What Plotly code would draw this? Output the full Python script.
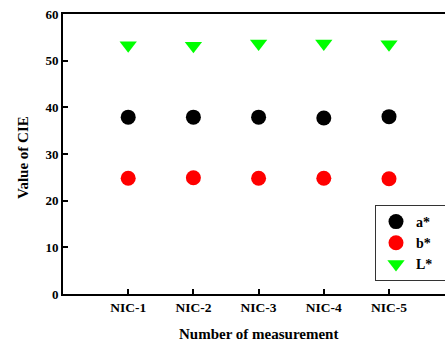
import plotly.graph_objects as go

categories = ["NIC-1", "NIC-2", "NIC-3", "NIC-4", "NIC-5"]
a_star = [37.9, 37.9, 37.9, 37.7, 38.0]
b_star = [24.8, 24.9, 24.8, 24.8, 24.7]
L_star = [53.3, 53.2, 53.7, 53.7, 53.5]
y_ticks = [0, 10, 20, 30, 40, 50, 60]
series_names = ["a*", "b*", "L*"]

xpos = list(range(1, len(categories) + 1))
FONT = "Liberation Serif"
PAD = "\u00a0" * 3

fig = go.Figure()
fig.add_trace(go.Scatter(x=xpos, y=a_star, mode="markers", name=series_names[0] + PAD,
                         marker=dict(symbol="circle", size=15, color="black")))
fig.add_trace(go.Scatter(x=xpos, y=b_star, mode="markers", name=series_names[1] + PAD,
                         marker=dict(symbol="circle", size=15, color="#ff0000")))
fig.add_trace(go.Scatter(x=xpos, y=L_star, mode="markers", name=series_names[2] + PAD,
                         marker=dict(symbol="triangle-down", size=15, color="#00ff00")))

W, H = 445, 344
ml, mt, mb = 63, 14, 50
pw = W - ml
ph = H - mt - mb

fig.update_layout(
    width=W, height=H,
    margin=dict(l=ml, r=0, t=mt, b=mb, pad=0, autoexpand=False),
    paper_bgcolor="white", plot_bgcolor="white",
    font=dict(family=FONT, size=13, color="black"),
    showlegend=True,
    legend=dict(
        x=(375 - ml) / pw, y=(294 - 205) / ph, xanchor="left", yanchor="top",
        bgcolor="white", bordercolor="#333333", borderwidth=1,
        font=dict(family=FONT, size=14, color="black", weight="bold"),
        itemwidth=30, tracegroupgap=0,
    ),
    xaxis=dict(
        range=[0, (W - ml) / 65.2], tickmode="array", tickvals=xpos, ticktext=categories,
        showline=True, linecolor="black", linewidth=2, mirror=True,
        ticks="inside", ticklen=5, tickwidth=1.5, tickcolor="black",
        showgrid=False, zeroline=False,
        tickfont=dict(family=FONT, size=13.5, weight="bold"),
    ),
    yaxis=dict(
        range=[0, 60], tickmode="array", tickvals=y_ticks,
        showline=True, linecolor="black", linewidth=2, mirror=False,
        ticks="inside", ticklen=5, tickwidth=1.5, tickcolor="black",
        showgrid=False, zeroline=False,
        tickfont=dict(family=FONT, size=13, weight="bold"),
    ),
    annotations=[
        dict(text="Number of measurement", xref="paper", yref="paper",
             x=(258 - ml) / pw, y=-(334 - 294) / ph, xanchor="center", yanchor="middle",
             showarrow=False, font=dict(family=FONT, size=15, weight="bold")),
        dict(text="Value of CIE", xref="paper", yref="paper",
             x=-(ml - 23) / pw, y=(294 - 158) / ph, xanchor="center", yanchor="middle",
             textangle=-90,
             showarrow=False, font=dict(family=FONT, size=15, weight="bold")),
    ],
)

fig.write_html("out.html", config={"displayModeBar": False},
               post_script="document.body.style.margin='0';document.body.style.overflow='hidden';")
